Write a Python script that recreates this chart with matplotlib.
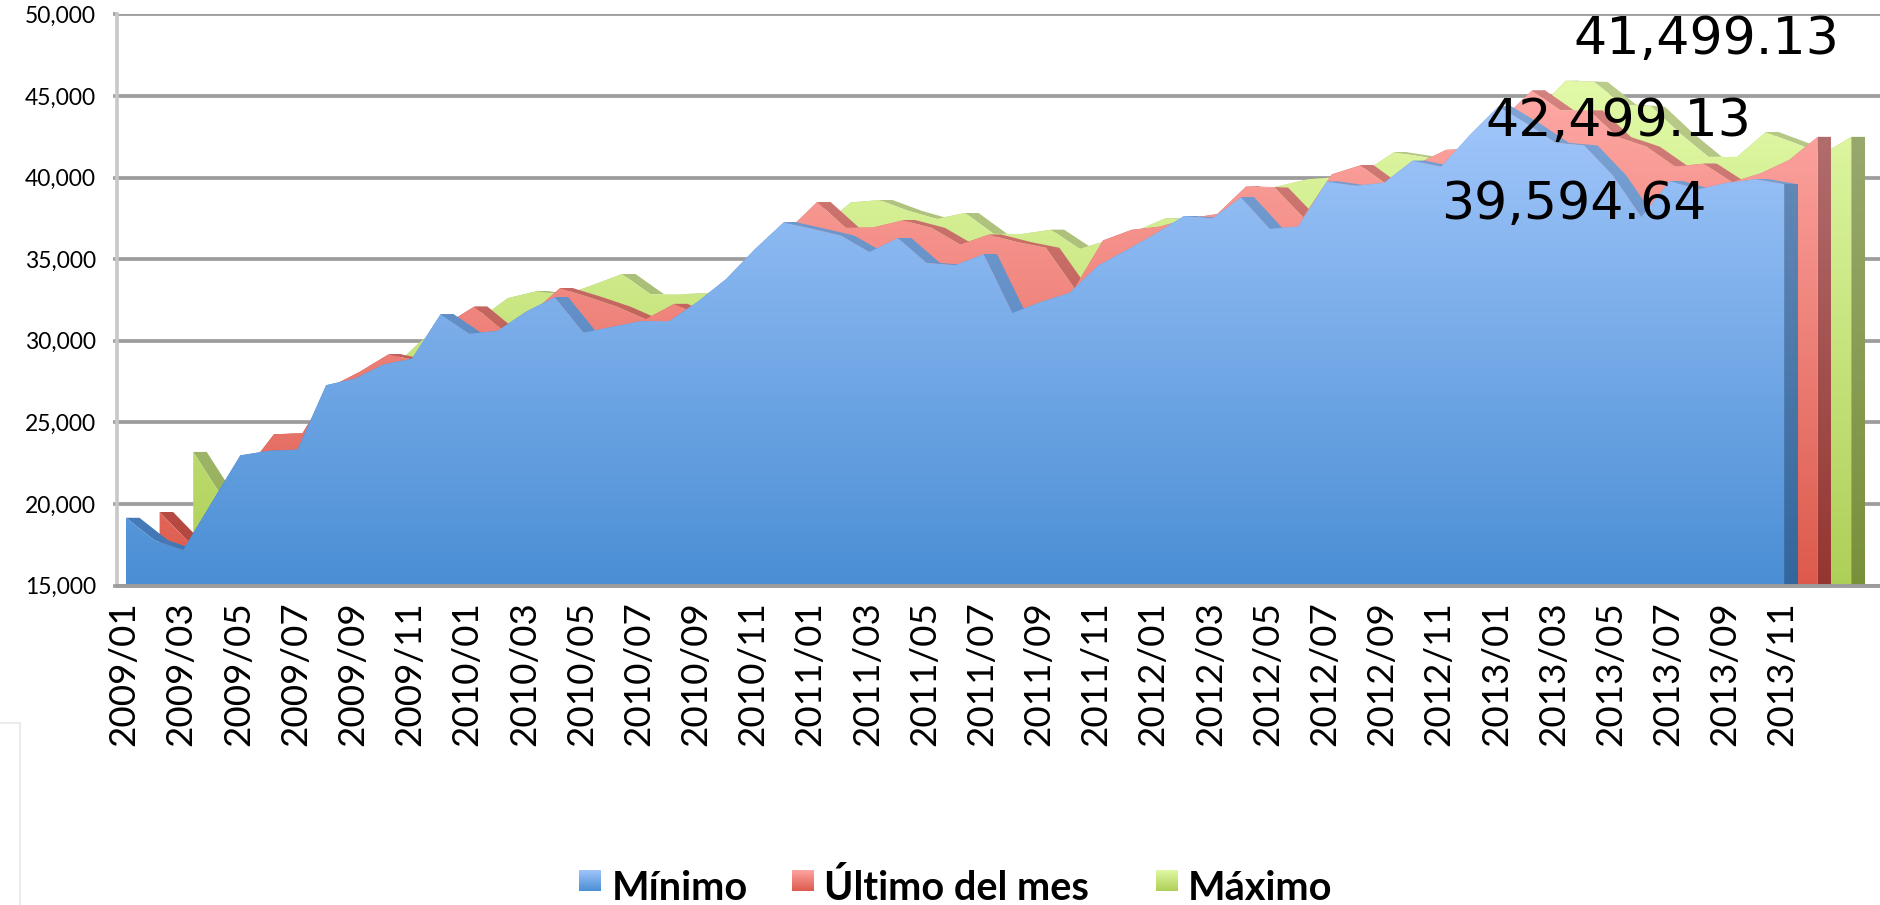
import numpy as np
import matplotlib
matplotlib.use("Agg")
import matplotlib.pyplot as plt
from matplotlib.path import Path
from matplotlib.patches import PathPatch
from matplotlib.colors import to_rgb
from matplotlib.lines import Line2D
from matplotlib.transforms import ScaledTranslation

minimo = [19155,17770,17180,20100,22980,23260,23330,27280,27680,28550,28900,31620,30430,30610,31790,32660,30500,30850,31200,31200,
          32400,33800,35620,37250,36860,36450,35440,36290,34770,34630,35300,31700,32380,32930,34610,35560,36550,37640,37500,38780,
          36860,37000,39750,39500,39680,41030,40660,42600,44350,43300,42130,41970,40140,37580,39780,39280,39680,39900,39594.64]
ultimo = [19510,17700,20500,22000,24270,24340,27200,28100,29160,28800,31000,32090,30650,31670,33220,32680,32090,31320,32260,31430,
          33000,35000,36800,38500,36920,36960,37380,36920,35900,36500,36050,35700,33220,36150,36800,37000,37500,37770,39450,39390,
          37570,40200,40750,39480,40850,41700,41780,43650,45330,44120,44120,42480,41900,40680,40850,39720,40260,41080,42499.13]
maximo = [23190,20470,22800,22500,23300,25000,27000,28380,30030,31000,31320,32610,33030,32800,33430,34090,32850,32850,32920,33500,
          35000,36500,37000,38480,38620,37970,37470,37830,36550,36550,36800,35640,36150,36750,37500,37470,37300,39100,39490,39900,
          40030,40400,41550,41280,40850,41580,42700,44080,45930,45860,44470,44350,42710,41270,41270,42780,42130,41450,42499.13]
etiquetas = [f"{a}/{m:02d}" for a in range(2009, 2014) for m in (1,3,5,7,9,11)]
yticks = [15000,20000,25000,30000,35000,40000,45000,50000]
series = ["Mínimo", "Último del mes", "Máximo"]
anotaciones = ["41,499.13", "42,499.13", "39,594.64"]

W, H = 1881, 905
PXM = 28.59
L, R, T, B = 117, 1880, 14.4, 585.6
x0 = (L-126)/PXM
x1 = (R-126)/PXM
SHIFT = 33.6/PXM
DEPTH = 13.5/PXM

FONT = "Lato"
fig = plt.figure(figsize=(W/100, H/100), dpi=100, facecolor="white")
ax = fig.add_axes([L/W, 1-B/H, (R-L)/W, (B-T)/H])
ax.set_xlim(x0, x1)
ax.set_ylim(15000, 50000)

def grad(top, bot, n=256):
    t, b = np.array(to_rgb(top)), np.array(to_rgb(bot))
    f = np.linspace(0, 1, n)[:, None, None]
    return t*(1-f) + b*f

def fill(vertices, codes, top, bot, vtop, z):
    patch = PathPatch(Path(vertices, codes), fc="none", ec="none", transform=ax.transData)
    ax.add_patch(patch)
    im = ax.imshow(grad(top, bot), extent=(x0, x1, 15000, vtop), aspect="auto",
                   origin="upper", zorder=z, interpolation="bilinear")
    im.set_clip_path(patch)

def area(vals, off, colors, z):
    top, bot, ctop, cbot, stop, sbot, vtop = colors
    xs = np.arange(len(vals)) + off
    ys = np.array(vals, float)
    # top faces of the extrusion, all wound the same way so overlaps stay filled
    vs, cs = [], []
    for i in range(len(xs)-1):
        q = [(xs[i], ys[i]), (xs[i+1], ys[i+1]), (xs[i+1]+DEPTH, ys[i+1]), (xs[i]+DEPTH, ys[i])]
        if ys[i+1] > ys[i]:
            q = q[::-1]
        vs += q + [q[0]]
        cs += [Path.MOVETO, Path.LINETO, Path.LINETO, Path.LINETO, Path.CLOSEPOLY]
    fill(vs, cs, stop, sbot, vtop, z)
    # end cap
    q = [(xs[-1], 15000), (xs[-1], ys[-1]), (xs[-1]+DEPTH, ys[-1]), (xs[-1]+DEPTH, 15000), (xs[-1], 15000)]
    fill(q, [Path.MOVETO, Path.LINETO, Path.LINETO, Path.LINETO, Path.CLOSEPOLY], ctop, cbot, vtop, z+0.05)
    # front face
    v = [(xs[0], 15000)] + list(zip(xs, ys)) + [(xs[-1], 15000), (xs[0], 15000)]
    c = [Path.MOVETO] + [Path.LINETO]*(len(xs)+1) + [Path.CLOSEPOLY]
    fill(v, c, top, bot, vtop, z+0.1)

BLUE = ("#A4C8FC", "#4A8ED4", "#6C8FBC", "#33669C", "#7FA5D6", "#3D74B4", 45000)
RED = ("#FFA8A5", "#DC5A4C", "#B47373", "#953530", "#D48280", "#B04238", 45500)
GREEN = ("#E2FAA8", "#AECF57", "#9DAB74", "#79903B", "#BCCC8C", "#90AC58", 46000)
area(maximo, 2*SHIFT, GREEN, 2)
area(ultimo, SHIFT, RED, 3)
area(minimo, 0, BLUE, 4)
ax.set_xlim(x0, x1)
ax.set_ylim(15000, 50000)

ax.set_yticks(yticks)
ax.set_yticklabels([f"{v:,}" for v in yticks], fontsize=16.5, family=FONT)
ax.set_xticks(np.arange(len(etiquetas))*2)
ax.set_xticklabels(etiquetas, rotation=90, fontsize=26.5, family=FONT)
ax.tick_params(axis="x", length=0, pad=11)
ax.tick_params(axis="y", length=3, width=2.6, color="#A0A0A0", pad=12)
off = ScaledTranslation(-2/100, 0, fig.dpi_scale_trans)
for lab in ax.get_xticklabels():
    lab.set_transform(lab.get_transform() + off)
ax.grid(axis="y", color="#9C9C9C", lw=2.7, zorder=1)
ax.set_axisbelow(True)
for s in ("top", "right"):
    ax.spines[s].set_visible(False)
ax.spines["left"].set_color("#C8C8C8")
ax.spines["left"].set_linewidth(2.6)
ax.spines["bottom"].set_color("#9C9C9C")
ax.spines["bottom"].set_linewidth(2.8)
ax.spines["bottom"].set_zorder(6)

for txt, px, py in zip(anotaciones, (1706, 1618, 1574), (40, 122, 205)):
    fig.text(px/W, 1-py/H, txt, ha="center", va="center", fontsize=37.6, family="DejaVu Sans", color="black", zorder=10)

# legend
for name, sx, tx, (a, b) in zip(series, (579, 792, 1156), (612, 824, 1188),
                                ((BLUE[0], BLUE[1]), (RED[0], RED[1]), (GREEN[0], GREEN[1]))):
    lax = fig.add_axes([sx/W, 1-891/H, 22/W, 21/H])
    lax.imshow(grad(a, b), aspect="auto", interpolation="bilinear")
    lax.axis("off")
    fig.text(tx/W, 1-900/H, name, ha="left", va="baseline", fontsize=28.5, fontweight="bold", family=FONT)

# faint frame bottom-left
fig.add_artist(Line2D([0, 20/W, 20/W], [1-723/H, 1-723/H, 0], color="#EBEBEB", lw=1.5))

fig.savefig("out.png", dpi=100, facecolor="white")
